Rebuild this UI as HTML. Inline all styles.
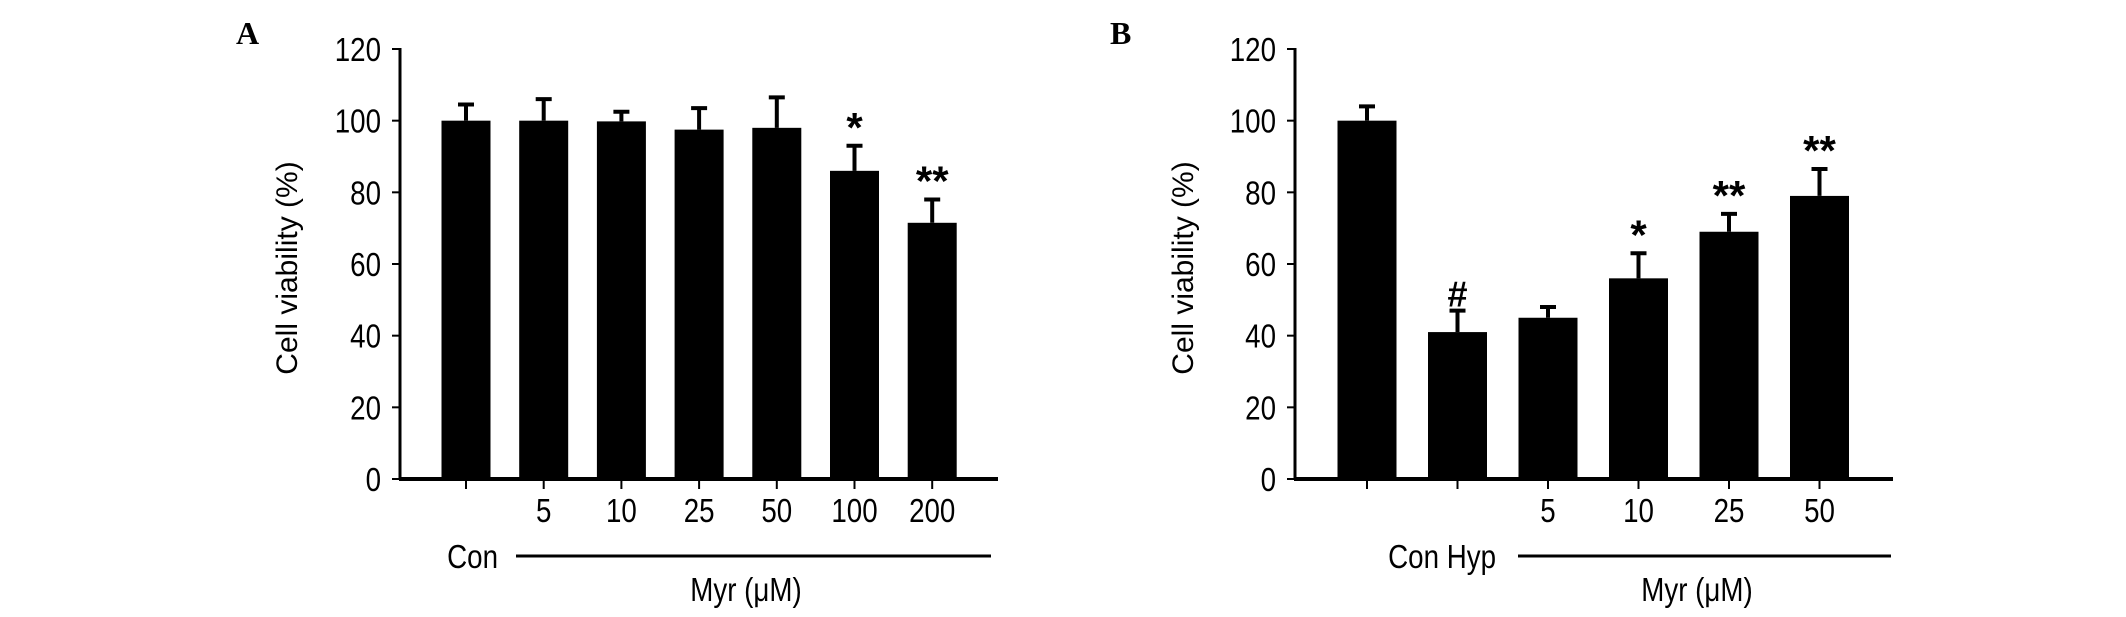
<!DOCTYPE html>
<html><head><meta charset="utf-8"><style>
html,body{margin:0;padding:0;background:#fff;}
svg{display:block;font-family:"Liberation Sans",Arial,sans-serif;}
</style></head><body>
<svg id="chart" width="2126" height="617" viewBox="0 0 2126 617" xmlns="http://www.w3.org/2000/svg"></svg>
<script>
const ticks = [0,20,40,60,80,100,120];
const catsA = ["", "5", "10", "25", "50", "100", "200"];
const valsA = [100, 100, 99.8, 97.5, 98, 86, 71.5];
const errA = [104.5, 106, 102.5, 103.5, 106.5, 93, 78];
const sigA = ["", "", "", "", "", "*", "**"];
const catsB = ["", "", "5", "10", "25", "50"];
const valsB = [100, 41, 45, 56, 69, 79];
const errB = [104, 47, 48, 63, 74, 86.5];
const sigB = ["", "#", "", "*", "**", "**"];

const NS = "http://www.w3.org/2000/svg";
const svg = document.getElementById("chart");
function mk(tag, attrs, parent, text){
  const e = document.createElementNS(NS, tag);
  for (const k in attrs) e.setAttribute(k, attrs[k]);
  if (text !== undefined) e.textContent = text;
  (parent||svg).appendChild(e);
  return e;
}
function ctext(x, y, anchor, size, parent, text){
  return mk("text", {x:0, y:0, transform:`translate(${x},${y}) scale(0.84,1)`, "text-anchor":anchor, "font-size":size}, parent, text);
}
const y0 = 479, pxPerUnit = 430/120;
function yS(v){ return y0 - v*pxPerUnit; }

function panel(cfg){
  const g = mk("g", {});
  
  
  const xS = i => cfg.x0 + i*cfg.step;
  const L = mk("text", {x:cfg.letterX, y:44, "font-family":"Liberation Serif, serif", "font-weight":"bold", "font-size":32}, g, cfg.letter);
  
  
  cfg.vals.forEach((v,i)=>{
    const cx = xS(i);
    const eb = mk("path", {d:`M${cx} ${yS(v)} V${yS(cfg.err[i])} M${cx-8} ${yS(cfg.err[i])} H${cx+8}`, stroke:"#000", "stroke-width":4, fill:"none"}, g);
    
    
    const r = mk("rect", {x:cx-cfg.bw/2, y:yS(v), width:cfg.bw, height:y0-yS(v), fill:"#000"}, g);
    
    
    const t = mk("line", {x1:cx, x2:cx, y1:y0, y2:y0+10, stroke:"#000", "stroke-width":2}, g);
    
    
    if (cfg.cats[i]) {
      const lt = ctext(cx, 522, "middle", 33, g, cfg.cats[i]);
      
      
    }
    if (cfg.sig[i]) {
      const s = mk("text", {x:cx, y:yS(cfg.err[i])-4, "text-anchor":"middle", "font-size":cfg.sig[i]==="#"?36:42, "font-weight":"bold"}, g, cfg.sig[i]);
      
      
    }
  });
  const ya = mk("line", {x1:cfg.ax, x2:cfg.ax, y1:yS(120)-1, y2:y0+1, stroke:"#000", "stroke-width":3}, g);
  
  
  const xa = mk("line", {x1:cfg.ax-1, x2:cfg.axEnd, y1:y0, y2:y0, stroke:"#000", "stroke-width":4}, g);
  
  
  ticks.forEach(t=>{
    const tl = mk("line", {x1:cfg.ax-8, x2:cfg.ax, y1:yS(t), y2:yS(t), stroke:"#000", "stroke-width":2}, g);
    
    
    const tx = ctext(cfg.ax-19, yS(t)+12, "end", 33, g, String(t));
    
    
  });
  const yt = mk("text", {x:0, y:0, transform:`translate(${cfg.ytX},268) rotate(-90)`, "text-anchor":"middle", "font-size":30}, g, "Cell viability (%)");
  
  
  const cl = ctext(cfg.conEnd, 568, "end", 33, g, cfg.conText);
  
  
  const ml = mk("line", {x1:cfg.lineX1, x2:cfg.lineX2, y1:556, y2:556, stroke:"#000", "stroke-width":3}, g);
  
  
  const mt = ctext(cfg.myrX, 601, "middle", 33, g, "Myr (\u03bcM)");
  
  
}
panel({name:"panel-a", letter:"A", letterX:236, cats:catsA, vals:valsA, err:errA, sig:sigA,
  x0:466, step:77.7, bw:49, ax:400, axEnd:998, ytX:297, conEnd:498, conText:"Con", lineX1:516, lineX2:991, myrX:746});
panel({name:"panel-b", letter:"B", letterX:1110, cats:catsB, vals:valsB, err:errB, sig:sigB,
  x0:1367, step:90.5, bw:59, ax:1295, axEnd:1893, ytX:1193, conEnd:1496, conText:"Con Hyp", lineX1:1518, lineX2:1891, myrX:1697});
</script>
</body></html>
